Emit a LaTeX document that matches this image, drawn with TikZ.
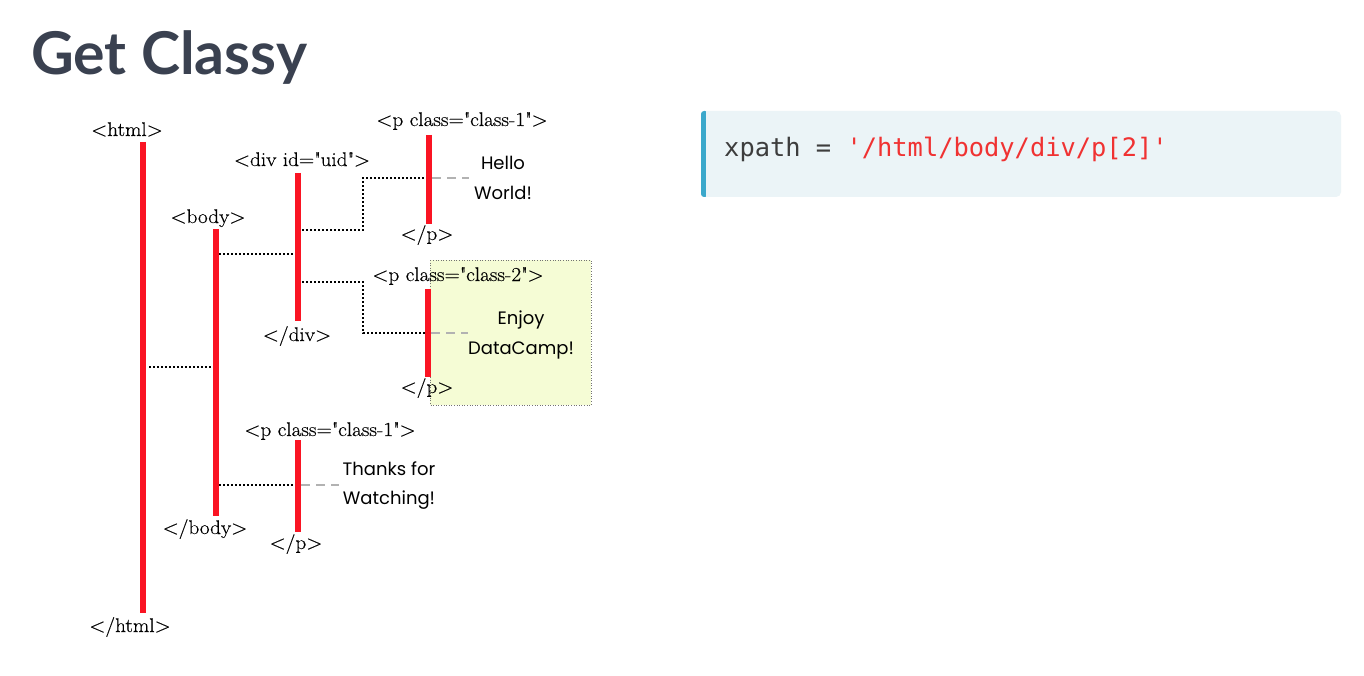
\documentclass[tikz,border=0pt]{standalone}
\usepackage{fontspec}
\setmainfont{Latin Modern Roman}
\newfontfamily\tagfont{Latin Modern Roman}[FakeStretch=1.07,FakeBold=0.4]
\newfontfamily\titlefont{Lato}
\newfontfamily\sansfont{Poppins}
\newfontfamily\codefont{DejaVu Sans Mono}
\definecolor{barred}{RGB}{250,20,35}
\definecolor{titlegray}{RGB}{58,65,80}
\definecolor{codebg}{RGB}{235,244,247}
\definecolor{codeblue}{RGB}{59,168,203}
\definecolor{codered}{RGB}{240,50,50}
\definecolor{codetext}{RGB}{61,61,61}
\definecolor{hilite}{RGB}{245,252,213}
\newcommand{\dq}{\textquotedbl}
\begin{document}
\begin{tikzpicture}[x=1pt,y=-1pt,
  tag/.style={font=\tagfont\fontsize{19.8}{22}\selectfont, inner sep=0pt, anchor=base},
  txt/.style={font=\sansfont\fontsize{18}{20}\selectfont, inner sep=0pt, anchor=base},
  bar/.style={draw=barred, line width=6pt},
  tree/.style={draw=black, line width=2.6pt, dash pattern=on 2.4pt off 1.6pt},
  leaf/.style={draw=black!30, line width=2.6pt, dash pattern=on 9pt off 6pt}]
\useasboundingbox (0,0) rectangle (1364,676);
\fill[white] (0,0) rectangle (1364,676);
% title
\node[font=\titlefont\bfseries\fontsize{59}{66}\selectfont, text=titlegray, inner sep=0pt, anchor=base west] (title) at (31,75) {Get Classy};
% highlight box
\draw[fill=hilite, draw=black!55, line width=0.6pt, dotted] (430,260) rectangle (591,405);
% coordinates of bars
\coordinate (htmlT) at (143,142); \coordinate (htmlB) at (143,613);
\coordinate (bodyT) at (216,229); \coordinate (bodyB) at (216,516);
\coordinate (divT) at (298,173); \coordinate (divB) at (298,321);
\coordinate (pAT) at (429,135); \coordinate (pAB) at (429,224);
\coordinate (pBT) at (428,289); \coordinate (pBB) at (428,377);
\coordinate (pCT) at (298,440); \coordinate (pCB) at (298,532);
% labels
\node[tag] (htmlO) at (127,136) {<html>};
\node[tag] (htmlC) at (130,632) {</html>};
\node[tag] (bodyO) at (208,223) {<body>};
\node[tag] (bodyC) at (205,534) {</body>};
\node[tag] (divO) at (302,166) {<div id=\dq uid\dq>};
\node[tag] (divC) at (297,341) {</div>};
\node[tag] (pAO) at (462,126) {<p class=\dq class-1\dq>};
\node[tag] (pAC) at (427,240) {</p>};
\node[tag] (pBO) at (458,281) {<p class=\dq class-2\dq>};
\node[tag] (pBC) at (427,393) {</p>};
\node[tag] (pCO) at (330,436) {<p class=\dq class-1\dq>};
\node[tag] (pCC) at (296,549) {</p>};
% texts
\node[txt] (hello) at (503,170) {Hello};
\node[txt] (world) at (503,200) {World!};
\node[txt] (enjoy) at (521,324) {Enjoy};
\node[txt] (dc) at (521,354) {DataCamp!};
\node[txt] (thanks) at (389,475) {Thanks for};
\node[txt] (watch) at (389,504) {Watching!};
% connectors
\coordinate (c1a) at (149,367); \coordinate (c1b) at (213,367);
\coordinate (c2a) at (219,254); \coordinate (c2b) at (295,254);
\coordinate (c3a) at (302,230); \coordinate (c3b) at (426,178);
\coordinate (c4a) at (302,282); \coordinate (c4b) at (426,333);
\coordinate (c5a) at (219,485); \coordinate (c5b) at (296,485);
\draw[tree] (c1a) -- (c1b);
\draw[tree] (c2a) -- (c2b);
\draw[tree] (c3a) -- (363,230) -- (363,178) -- (c3b);
\draw[tree] (c4a) -- (363,282) -- (363,333) -- (c4b);
\draw[tree] (c5a) -- (c5b);
\coordinate (l1a) at (432,178); \coordinate (l1b) at (469,178);
\coordinate (l2a) at (431,333); \coordinate (l2b) at (468,333);
\coordinate (l3a) at (301,485); \coordinate (l3b) at (339,485);
\draw[leaf] (l1a) -- (l1b);
\draw[leaf] (l2a) -- (l2b);
\draw[leaf] (l3a) -- (l3b);
% bars
\draw[bar] (htmlT) -- (htmlB);
\draw[bar] (bodyT) -- (bodyB);
\draw[bar] (divT) -- (divB);
\draw[bar] (pAT) -- (pAB);
\draw[bar] (pBT) -- (pBB);
\draw[bar] (pCT) -- (pCB);
% code box
\fill[codebg, rounded corners=5pt] (701,111) rectangle (1341,197);
\fill[codeblue, rounded corners=3pt] (701,111) rectangle (708,197);
\fill[codebg] (706,111) rectangle (712,197);
\node[font=\codefont\fontsize{25.4}{28}\selectfont, inner sep=0pt, anchor=base west] (code) at (724,157) {\textcolor{codetext}{xpath = }\textcolor{codered}{'/html/body/div/p[2]'}};
\end{tikzpicture}
\end{document}
